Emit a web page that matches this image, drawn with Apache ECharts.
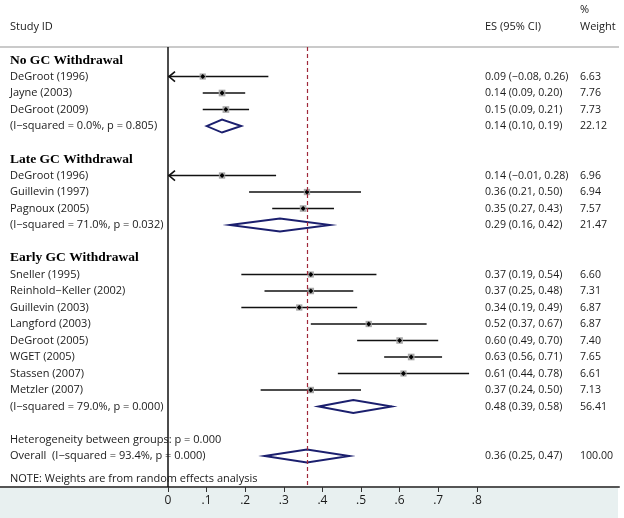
<!DOCTYPE html>
<html>
<head>
<meta charset="utf-8">
<title>Forest plot</title>
<script src="https://cdn.jsdelivr.net/npm/echarts@6/dist/echarts.min.js"></script>
<style>
  html, body { margin: 0; padding: 0; background: #fff; }
  #chart { width: 624px; height: 518px; }
</style>
</head>
<body>
<div id="chart"></div>
<script>
// group headings
const groupTitles = ['No GC Withdrawal', 'Late GC Withdrawal', 'Early GC Withdrawal']
const groupRows = [0, 6, 12]

// individual studies
const studyNames = [
  'DeGroot (1996)', 'Jayne (2003)', 'DeGroot (2009)',
  'DeGroot (1996)', 'Guillevin (1997)', 'Pagnoux (2005)',
  'Sneller (1995)', 'Reinhold\u2212Keller (2002)', 'Guillevin (2003)', 'Langford (2003)',
  'DeGroot (2005)', 'WGET (2005)', 'Stassen (2007)', 'Metzler (2007)'
]
const studyRows = [1, 2, 3, 7, 8, 9, 13, 14, 15, 16, 17, 18, 19, 20]
const studyEs = [0.09, 0.14, 0.15, 0.14, 0.36, 0.35, 0.37, 0.37, 0.34, 0.52, 0.60, 0.63, 0.61, 0.37]
const studyLo = [-0.08, 0.09, 0.09, -0.01, 0.21, 0.27, 0.19, 0.25, 0.19, 0.37, 0.49, 0.56, 0.44, 0.24]
const studyHi = [0.26, 0.20, 0.21, 0.28, 0.50, 0.43, 0.54, 0.48, 0.49, 0.67, 0.70, 0.71, 0.78, 0.50]
const studyWeight = [6.63, 7.76, 7.73, 6.96, 6.94, 7.57, 6.60, 7.31, 6.87, 6.87, 7.40, 7.65, 6.61, 7.13]

// pooled estimates (subgroups + overall)
const pooledLabels = [
  '(I\u2212squared = 0.0%, p = 0.805)',
  '(I\u2212squared = 71.0%, p = 0.032)',
  '(I\u2212squared = 79.0%, p = 0.000)',
  'Overall  (I\u2212squared = 93.4%, p = 0.000)'
]
const pooledRows = [4, 10, 21, 24]
const pooledEs = [0.14, 0.29, 0.48, 0.36]
const pooledLo = [0.10, 0.16, 0.39, 0.25]
const pooledHi = [0.19, 0.42, 0.58, 0.47]
const pooledWeight = [22.12, 21.47, 56.41, 100.00]

// free text rows
const noteTexts = ['Heterogeneity between groups: p = 0.000', 'NOTE: Weights are from random effects analysis']
const noteRows = [23, 25.4]

const xTicks = [0, 0.1, 0.2, 0.3, 0.4, 0.5, 0.6, 0.7, 0.8]
const overallEs = 0.36

const labelX = 10
const esX = 485
const wtX = 580
const sans = '"Open Sans"'
const labelFont = '11px ' + sans
const numFont = '10.6px ' + sans
const txtColor = '#1a1a1a'
const navy = '#1b1f6e'

function fmt(v) {
  return v < 0 ? '\u2212' + Math.abs(v).toFixed(2) : v.toFixed(2)
}
function esText(es, lo, hi) {
  return fmt(es) + ' (' + fmt(lo) + ', ' + fmt(hi) + ')'
}

// rows of text: [row, label, es column, weight column, bold]
const textRows = []
groupTitles.forEach((t, i) => textRows.push([groupRows[i], t, '', '', 1]))
studyNames.forEach((n, i) => textRows.push([studyRows[i], n, esText(studyEs[i], studyLo[i], studyHi[i]), studyWeight[i].toFixed(2), 0]))
pooledLabels.forEach((n, i) => textRows.push([pooledRows[i], n, esText(pooledEs[i], pooledLo[i], pooledHi[i]), pooledWeight[i].toFixed(2), 0]))
noteTexts.forEach((n, i) => textRows.push([noteRows[i], n, '', '', 0]))

const chart = echarts.init(document.getElementById('chart'))

const option = {
  animation: false,
  grid: { left: 0, right: 5, top: 47, bottom: 31 },
  xAxis: {
    type: 'value',
    min: -168 / 386,
    max: 451 / 386,
    splitLine: { show: false },
    axisLine: { onZero: false, lineStyle: { color: '#555', width: 2 } },
    axisTick: { customValues: xTicks, length: 5, lineStyle: { color: '#333', width: 1 } },
    axisLabel: {
      customValues: xTicks,
      margin: 8,
      fontFamily: 'Open Sans',
      fontSize: 12,
      color: txtColor,
      formatter: v => v === 0 ? '0' : v.toFixed(1).replace('0.', '.')
    }
  },
  yAxis: {
    type: 'value',
    inverse: true,
    min: -0.79,
    max: 25.88,
    show: false
  },
  graphic: [
    { type: 'rect', z: -10, shape: { x: 0, y: 488, width: 618, height: 30 }, style: { fill: '#e8f0f0' } },
    { type: 'line', shape: { x1: 0, y1: 47, x2: 619, y2: 47 }, style: { stroke: '#b8b8b8', lineWidth: 1.5 } },
    { type: 'text', x: labelX, y: 27, style: { text: 'Study ID', font: labelFont, fill: txtColor, verticalAlign: 'middle' } },
    { type: 'text', x: esX, y: 27, style: { text: 'ES (95% CI)', font: labelFont, fill: txtColor, verticalAlign: 'middle' } },
    { type: 'text', x: wtX, y: 10, style: { text: '%', font: labelFont, fill: txtColor, verticalAlign: 'middle' } },
    { type: 'text', x: wtX, y: 27, style: { text: 'Weight', font: labelFont, fill: txtColor, verticalAlign: 'middle' } }
  ],
  series: [
    {
      // reference lines: null effect and overall estimate
      type: 'line',
      data: [],
      markLine: {
        silent: true,
        symbol: 'none',
        label: { show: false },
        data: [
          { xAxis: 0, lineStyle: { color: '#111', width: 1.5, type: 'solid' } },
          { xAxis: overallEs, lineStyle: { color: '#a0283a', width: 1.2, type: [4, 3] } }
        ]
      }
    },
    {
      // confidence interval lines, with arrow when clipped at 0
      type: 'custom',
      clip: false,
      data: studyRows.map((r, i) => [studyLo[i], studyHi[i], r]),
      renderItem: function(params, api) {
        const lo = api.value(0)
        const hi = api.value(1)
        const row = api.value(2)
        const p0 = api.coord([Math.max(lo, 0), row])
        const p1 = api.coord([hi, row])
        const children = [
          { type: 'line', shape: { x1: p0[0], y1: p0[1], x2: p1[0], y2: p1[1] }, style: { stroke: '#111', lineWidth: 1.6 } }
        ]
        if (lo < 0) {
          children.push({
            type: 'polyline',
            shape: { points: [[p0[0] + 7, p0[1] - 5], [p0[0] + 1, p0[1]], [p0[0] + 7, p0[1] + 5]] },
            style: { stroke: '#111', lineWidth: 1.6, fill: null }
          })
        }
        return { type: 'group', children: children }
      }
    },
    {
      // weight boxes
      type: 'scatter',
      symbol: 'rect',
      symbolSize: v => Math.sqrt(v[2]) * 2.4,
      itemStyle: { color: '#a8a8a8', opacity: 1 },
      data: studyRows.map((r, i) => [studyEs[i], r, studyWeight[i]]),
      z: 3
    },
    {
      // point estimates
      type: 'scatter',
      symbol: 'diamond',
      symbolSize: 5,
      itemStyle: { color: '#000', opacity: 1 },
      data: studyRows.map((r, i) => [studyEs[i], r]),
      z: 4
    },
    {
      // pooled diamonds
      type: 'custom',
      clip: false,
      data: pooledRows.map((r, i) => [pooledLo[i], pooledEs[i], pooledHi[i], r]),
      renderItem: function(params, api) {
        const row = api.value(3)
        const a = api.coord([api.value(0), row])
        const m = api.coord([api.value(1), row])
        const b = api.coord([api.value(2), row])
        const h = 6.5
        return {
          type: 'polygon',
          shape: { points: [[a[0], a[1]], [m[0], m[1] - h], [b[0], b[1]], [m[0], m[1] + h]] },
          style: { fill: '#fff', stroke: navy, lineWidth: 1.9 }
        }
      },
      z: 2
    },
    {
      // table text: study label, ES (95% CI), weight
      type: 'custom',
      clip: false,
      data: textRows,
      renderItem: function(params, api) {
        const row = api.value(0)
        const y = api.coord([0, row])[1]
        const item = textRows[params.dataIndex]
        const bold = item[4] === 1
        const font = bold ? 'bold 13.5px "Liberation Serif"' : labelFont
        return {
          type: 'group',
          children: [
            { type: 'text', x: labelX, y: y, style: { text: item[1], font: font, fill: bold ? '#000' : txtColor, verticalAlign: 'middle' } },
            { type: 'text', x: esX, y: y, style: { text: item[2], font: numFont, fill: txtColor, verticalAlign: 'middle' } },
            { type: 'text', x: wtX, y: y, style: { text: item[3], font: numFont, fill: txtColor, verticalAlign: 'middle' } }
          ]
        }
      },
      z: 6
    }
  ]
}

option && chart.setOption(option)
</script>
</body>
</html>
